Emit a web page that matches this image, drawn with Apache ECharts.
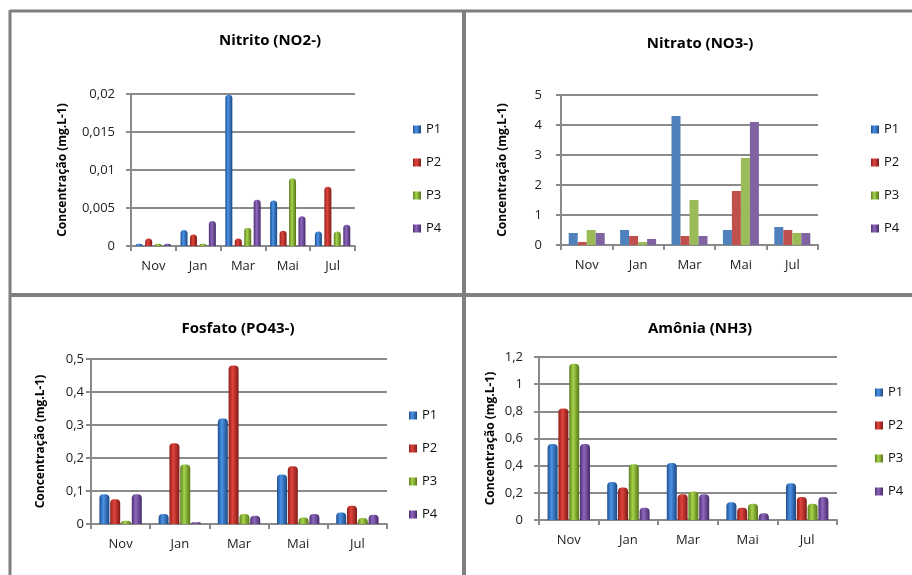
<!DOCTYPE html>
<html>
<head>
<meta charset="utf-8">
<script src="https://cdn.jsdelivr.net/npm/echarts@6/dist/echarts.min.js"></script>
<style>
  body { margin: 0; background: #fff; }
  #main { width: 912px; height: 575px; }
</style>
</head>
<body>
<div id="main"></div>
<script>
// meses e pontos de coleta
var meses = ['Nov', 'Jan', 'Mar', 'Mai', 'Jul'];
var pontos = ['P1', 'P2', 'P3', 'P4'];

// valores por ponto (P1..P4), cada array segue os meses
var nitrito = [
  [0.0003, 0.0021, 0.0199, 0.006, 0.0019],
  [0.001, 0.0015, 0.001, 0.002, 0.0078],
  [0.0003, 0.0003, 0.0024, 0.0089, 0.0019],
  [0.0003, 0.0033, 0.0061, 0.0039, 0.0028]
];
var nitrato = [
  [0.4, 0.5, 4.3, 0.5, 0.6],
  [0.1, 0.3, 0.3, 1.8, 0.5],
  [0.5, 0.1, 1.5, 2.9, 0.4],
  [0.4, 0.2, 0.3, 4.1, 0.4]
];
var fosfato = [
  [0.09, 0.03, 0.32, 0.15, 0.035],
  [0.075, 0.245, 0.48, 0.175, 0.055],
  [0.01, 0.18, 0.03, 0.02, 0.018],
  [0.09, 0.005, 0.025, 0.03, 0.028]
];
var amonia = [
  [0.56, 0.28, 0.42, 0.13, 0.27],
  [0.82, 0.24, 0.19, 0.09, 0.17],
  [1.15, 0.41, 0.21, 0.12, 0.12],
  [0.56, 0.09, 0.19, 0.05, 0.17]
];

var fonte = '"Open Sans", "Liberation Sans", sans-serif';
var cinza = '#8a8a8a';

// cores "cilindro" (gradiente) e cores planas
var corCil = [
  ['#1f4f8f', '#4b93e6', '#1b4680'],
  ['#8e1f1b', '#e0443c', '#7f1a16'],
  ['#5f7f1f', '#a6d44a', '#56741a'],
  ['#4d2f73', '#8e68bd', '#452a68']
];
var corPlana = ['#4F81BD', '#C0504D', '#9BBB59', '#8064A2'];

function gradiente(c) {
  return new echarts.graphic.LinearGradient(0, 0, 1, 0, [
    { offset: 0, color: c[0] },
    { offset: 0.4, color: c[1] },
    { offset: 1, color: c[2] }
  ]);
}

var paineis = [
  { titulo: 'Nitrito (NO2-)', dados: nitrito, tx: 265, ty: 28, grid: { left: 131, top: 94, width: 224, height: 152 },
    max: 0.02, interval: 0.005, nameGap: 62, lm: 16, leg: [408, 118], bw: 7, gap: '35%', plano: false },
  { titulo: 'Nitrato (NO3-)', dados: nitrato, tx: 695, ty: 31, grid: { left: 561, top: 95, width: 257, height: 150 },
    max: 5, interval: 1, nameGap: 52, lm: 19, leg: [866, 118], bw: 9, gap: '0%', plano: true },
  { titulo: 'Fosfato (PO43-)', dados: fosfato, tx: 233, ty: 316, grid: { left: 91, top: 359, width: 296, height: 165 },
    max: 0.5, interval: 0.1, nameGap: 44, lm: 7, leg: [404, 404], bw: 10, gap: '8%', plano: false },
  { titulo: 'Amônia (NH3)', dados: amonia, tx: 695, ty: 316, grid: { left: 539, top: 357, width: 298, height: 163 },
    max: 1.2, interval: 0.2, nameGap: 42, lm: 16, leg: [870, 381], bw: 10, gap: '8%', plano: false }
];

var myChart = echarts.init(document.getElementById('main'));

var option = {
  backgroundColor: '#fff',
  animation: false,
  title: [], legend: [], grid: [], xAxis: [], yAxis: [], series: [],
  graphic: [
    { type: 'line', shape: { x1: 10, y1: 11, x2: 912, y2: 11 }, style: { stroke: '#7f7f7f', lineWidth: 3 } },
    { type: 'line', shape: { x1: 10, y1: 10, x2: 10, y2: 575 }, style: { stroke: '#7f7f7f', lineWidth: 3 } },
    { type: 'line', shape: { x1: 464, y1: 10, x2: 464, y2: 575 }, style: { stroke: '#7f7f7f', lineWidth: 4 } },
    { type: 'line', shape: { x1: 10, y1: 295, x2: 912, y2: 295 }, style: { stroke: '#7f7f7f', lineWidth: 4 } }
  ]
};

paineis.forEach(function (p, i) {
  option.title.push({
    text: p.titulo, left: p.tx, top: p.ty, textAlign: 'center',
    textStyle: { fontFamily: fonte, fontSize: 15, fontWeight: 'bold', color: '#000' }
  });
  option.legend.push({
    data: pontos, orient: 'vertical', left: p.leg[0], top: p.leg[1],
    itemWidth: 8, itemHeight: 8, itemGap: 20, icon: 'rect',
    textStyle: { fontFamily: fonte, fontSize: 13, color: '#111' }
  });
  option.grid.push(p.grid);
  option.xAxis.push({
    type: 'category', gridIndex: i, data: meses,
    axisLine: { lineStyle: { color: cinza, width: 2 } },
    axisTick: { show: true, length: 5, lineStyle: { color: cinza, width: 2 } },
    axisLabel: { fontFamily: fonte, fontSize: 13, color: '#222', margin: 14 }
  });
  option.yAxis.push({
    type: 'value', gridIndex: i, min: 0, max: p.max, interval: p.interval,
    name: 'Concentração (mg.L-1)', nameLocation: 'middle', nameGap: p.nameGap,
    nameTextStyle: { fontFamily: fonte, fontSize: 12, fontWeight: 'bold', color: '#000' },
    axisLine: { show: true, lineStyle: { color: cinza, width: 2 } },
    axisTick: { show: true, length: 5, lineStyle: { color: cinza, width: 2 } },
    splitLine: { lineStyle: { color: cinza, width: 2 } },
    axisLabel: {
      fontFamily: fonte, fontSize: 13, color: '#222', margin: p.lm,
      formatter: function (v) { return String(+v.toFixed(4)).replace('.', ','); }
    }
  });
  pontos.forEach(function (nome, k) {
    option.series.push({
      name: nome, type: 'bar', xAxisIndex: i, yAxisIndex: i,
      data: p.dados[k], barWidth: p.bw, barGap: p.gap,
      itemStyle: {
        color: p.plano ? corPlana[k] : gradiente(corCil[k]),
        borderRadius: p.plano ? 0 : [4, 4, 0, 0]
      }
    });
  });
});

myChart.setOption(option);
</script>
</body>
</html>
